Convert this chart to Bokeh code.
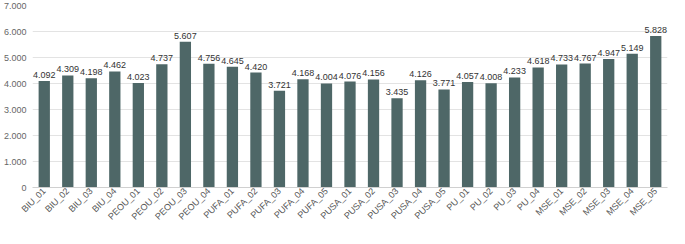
from bokeh.plotting import figure
from bokeh.models import ColumnDataSource, FactorRange, Range1d, FixedTicker, LabelSet
from bokeh.core.properties import value
from bokeh.embed import file_html
from bokeh.resources import INLINE
import math

categories = ["BIU_01", "BIU_02", "BIU_03", "BIU_04",
              "PEOU_01", "PEOU_02", "PEOU_03", "PEOU_04",
              "PUFA_01", "PUFA_02", "PUFA_03", "PUFA_04", "PUFA_05",
              "PUSA_01", "PUSA_02", "PUSA_03", "PUSA_04", "PUSA_05",
              "PU_01", "PU_02", "PU_03", "PU_04",
              "MSE_01", "MSE_02", "MSE_03", "MSE_04", "MSE_05"]
values = [4.092, 4.309, 4.198, 4.462,
          4.023, 4.737, 5.607, 4.756,
          4.645, 4.420, 3.721, 4.168, 4.004,
          4.076, 4.156, 3.435, 4.126, 3.771,
          4.057, 4.008, 4.233, 4.618,
          4.733, 4.767, 4.947, 5.149, 5.828]
y_ticks = [0, 1, 2, 3, 4, 5, 6, 7]
y_tick_labels = ["0", "1.000", "2.000", "3.000", "4.000", "5.000", "6.000", "7.000"]

labels = [f"{v:.3f}" for v in values]
src = ColumnDataSource(dict(cat=categories, val=values, lab=labels))

p = figure(width=669, height=228, x_range=FactorRange(*categories),
           y_range=Range1d(0, 7.0), output_backend="svg", toolbar_location=None,
           min_border_left=0, min_border_right=2, min_border_top=5, min_border_bottom=0)
p.x_range.factor_padding = 0
p.x_range.range_padding = 0

p.vbar(x="cat", top="val", width=0.48, source=src, fill_color="#4e6767", line_color=None)

lbl = LabelSet(x="cat", y="val", text="lab", source=src, text_align="center",
               text_baseline="bottom", y_offset=3, text_font_size=value("9px"),
               text_color=value("#333333"), text_font=value("Liberation Sans"))
p.add_layout(lbl)

p.outline_line_color = None
p.xgrid.grid_line_color = None
p.ygrid.grid_line_color = "#e3e3e3"
p.ygrid.grid_line_width = 1

p.yaxis.ticker = FixedTicker(ticks=y_ticks)
p.yaxis.major_label_overrides = {t: s for t, s in zip(y_ticks, y_tick_labels)}
p.yaxis.axis_line_color = None
p.yaxis.major_tick_line_color = None
p.yaxis.minor_tick_line_color = None
p.yaxis.major_tick_out = 0
p.yaxis.major_tick_in = 0
p.yaxis.minor_tick_out = 0
p.yaxis.minor_tick_in = 0
p.yaxis.major_label_text_font_size = "9px"
p.yaxis.major_label_text_color = "#666666"
p.yaxis.major_label_text_font = "Liberation Sans"
p.yaxis.major_label_standoff = 6

p.xaxis.axis_line_color = "#d0d0d0"
p.xaxis.major_tick_line_color = None
p.xaxis.minor_tick_line_color = None
p.xaxis.major_tick_out = 0
p.xaxis.major_tick_in = 0
p.xaxis.minor_tick_out = 0
p.xaxis.minor_tick_in = 0
p.xaxis.major_label_orientation = math.pi / 4
p.xaxis.major_label_text_font_size = "9px"
p.xaxis.major_label_text_color = "#555555"
p.xaxis.major_label_text_font = "Liberation Sans"
p.xaxis.major_label_standoff = 2

open("out.html", "w").write(file_html(p, INLINE))
